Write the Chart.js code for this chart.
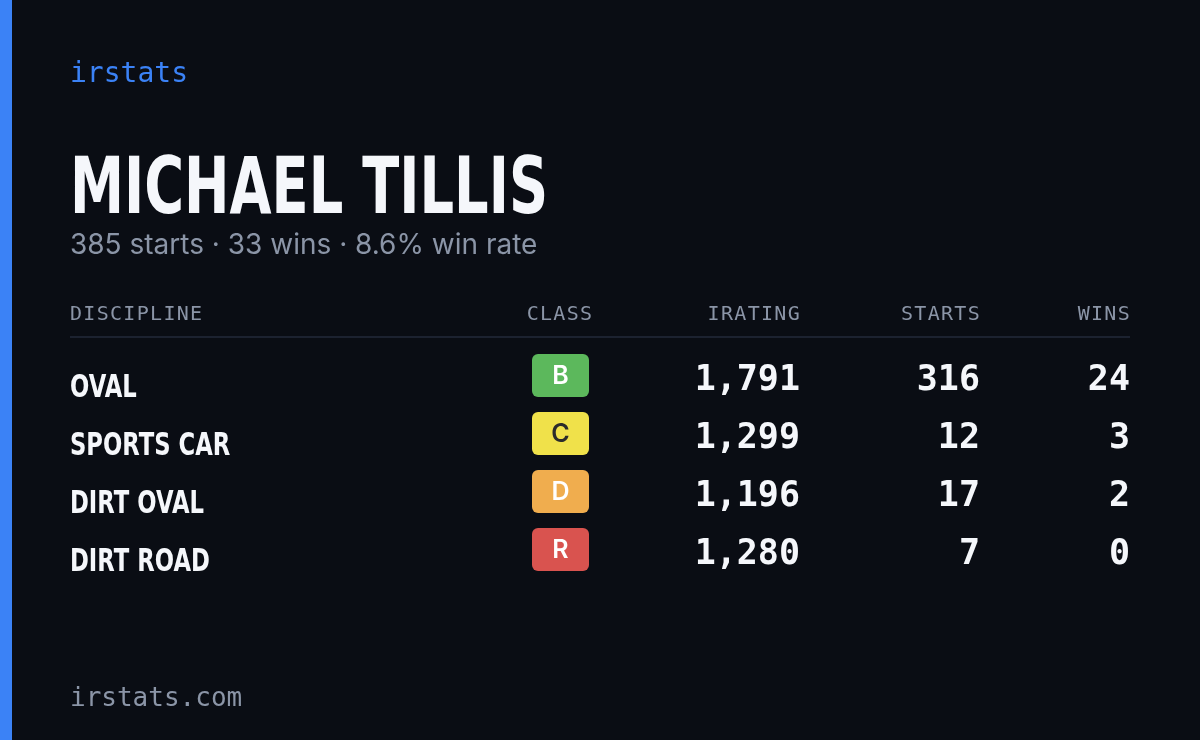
<!DOCTYPE html>
<html><head><meta charset="utf-8">
<script src="https://cdn.jsdelivr.net/npm/chart.js@4"></script>
<style>html,body{margin:0;padding:0;background:#0a0d14;overflow:hidden}</style>
</head><body>
<canvas id="c" width="1200" height="740"></canvas>
<script>
const disciplines = ["OVAL", "SPORTS CAR", "DIRT OVAL", "DIRT ROAD"];
const classes = ["B", "C", "D", "R"];
const iratings = [1791, 1299, 1196, 1280];
const starts = [316, 12, 17, 7];
const wins = [24, 3, 2, 0];
const headers = ["DISCIPLINE", "CLASS", "IRATING", "STARTS", "WINS"];
const driver = "MICHAEL TILLIS";
const summary = "385 starts · 33 wins · 8.6% win rate";
const classColors = {B:"#5cb85c", C:"#f0e14a", D:"#f0ad4e", R:"#d9534f"};
const classText = {B:"#ffffff", C:"#2b2b2b", D:"#ffffff", R:"#ffffff"};

const mono = '"DejaVu Sans Mono", monospace';
const cond = '"DejaVu Sans", sans-serif';
const sans = 'Inter, "Noto Sans", sans-serif';

function rr(ctx,x,y,w,h,r){ctx.beginPath();ctx.moveTo(x+r,y);ctx.arcTo(x+w,y,x+w,y+h,r);ctx.arcTo(x+w,y+h,x,y+h,r);ctx.arcTo(x,y+h,x,y,r);ctx.arcTo(x,y,x+w,y,r);ctx.closePath();}
function condText(ctx,t,x,y,targetW){
  const w=ctx.measureText(t).width;
  ctx.save();ctx.translate(x,y);ctx.scale(targetW?targetW/w:0.78,1);ctx.fillText(t,0,0);ctx.restore();
}

const card = {
  id:'card',
  beforeDraw(chart){
    const ctx=chart.ctx;
    ctx.save();
    ctx.fillStyle="#0a0d14";ctx.fillRect(0,0,1200,740);
    ctx.fillStyle="#3b82f6";ctx.fillRect(0,0,12,740);
    ctx.restore();
  },
  afterDraw(chart){
    const ctx=chart.ctx, y=chart.scales.y;
    ctx.save();
    ctx.textBaseline="alphabetic";
    ctx.textAlign="left";
    ctx.fillStyle="#3b82f6";ctx.font='28px '+mono;ctx.fillText("irstats",70,82);
    ctx.fillStyle="#f5f7fb";ctx.font='bold 78px '+cond;condText(ctx,driver,70,213,478);
    ctx.fillStyle="#8b95a7";ctx.font='28px '+sans;ctx.fillText(summary,70,254);
    ctx.fillStyle="#8b95a7";ctx.font='26px '+mono;ctx.fillText("irstats.com",70,706);
    // header
    ctx.font='20px '+mono;ctx.fillStyle="#8b95a7";ctx.letterSpacing='1.3px';
    const hx=[[70,"left"],[560,"center"],[801,"right"],[981,"right"],[1131,"right"]];
    headers.forEach((h,i)=>{ctx.textAlign=hx[i][1];ctx.fillText(h,hx[i][0],320);});
    ctx.letterSpacing='0px';
    ctx.fillStyle="#1c2230";ctx.fillRect(70,336,1060,2);
    disciplines.forEach((d,i)=>{
      const cy=y.getPixelForValue(i);
      ctx.textAlign="left";ctx.fillStyle="#f5f7fb";ctx.font='bold 32px '+cond;
      const w=ctx.measureText(d).width;
      condText(ctx,d,70,cy+17,w*0.71);
      const c=classes[i];
      ctx.fillStyle=classColors[c];rr(ctx,532,cy-26,57,43,6);ctx.fill();
      ctx.fillStyle=classText[c];ctx.font='600 25px '+sans;ctx.textAlign="center";ctx.textBaseline="middle";
      ctx.fillText(c,560.5,cy-4);
      ctx.textBaseline="alphabetic";ctx.textAlign="right";ctx.fillStyle="#f5f7fb";ctx.font='bold 35px '+mono;
      ctx.fillText(iratings[i].toLocaleString("en-US"),800,cy+10);
      ctx.fillText(String(starts[i]),980,cy+10);
      ctx.fillText(String(wins[i]),1130,cy+10);
    });
    ctx.restore();
  }
};

new Chart(document.getElementById('c'),{
  type:'bar',
  data:{labels:disciplines,datasets:[{data:iratings.map(()=>0),backgroundColor:'rgba(0,0,0,0)'}]},
  options:{
    indexAxis:'y',responsive:false,animation:false,devicePixelRatio:1,
    layout:{padding:{top:351,bottom:157,left:0,right:0}},
    plugins:{legend:{display:false},tooltip:{enabled:false}},
    scales:{x:{display:false,min:0,max:1},y:{display:false}}
  },
  plugins:[card]
});
</script>
</body></html>
